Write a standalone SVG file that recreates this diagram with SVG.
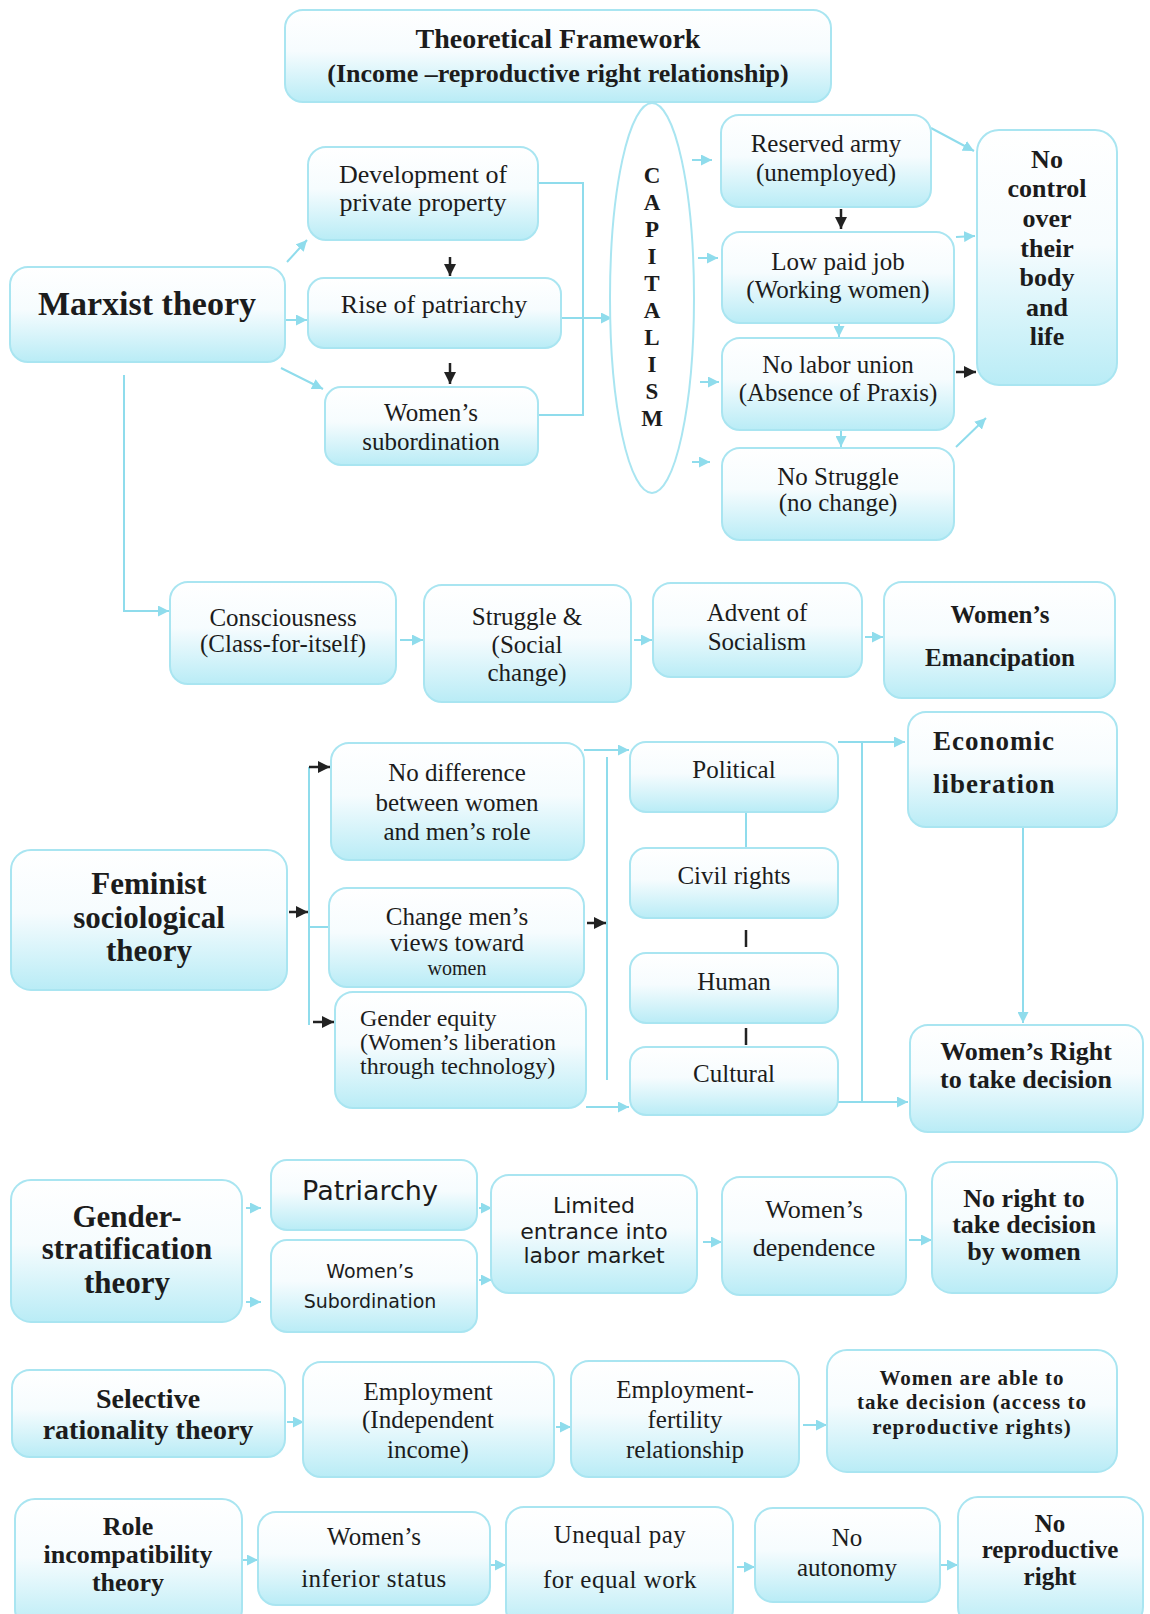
<svg xmlns="http://www.w3.org/2000/svg" width="1150" height="1614" viewBox="0 0 1150 1614" font-size="25">
<defs>
<linearGradient id="g" x1="0" y1="0" x2="0" y2="1">
<stop offset="0" stop-color="#ffffff"/>
<stop offset="0.45" stop-color="#f6fcfe"/>
<stop offset="1" stop-color="#b9ecf6"/>
</linearGradient>
<marker id="ac" viewBox="0 0 10 10" refX="10" refY="5" markerWidth="11" markerHeight="11" markerUnits="userSpaceOnUse" orient="auto"><path d="M0,0 L10,5 L0,10 z" fill="#8fdcec"/></marker>
<marker id="ab" viewBox="0 0 10 10" refX="10" refY="5" markerWidth="12" markerHeight="12" markerUnits="userSpaceOnUse" orient="auto"><path d="M0,0 L10,5 L0,10 z" fill="#222"/></marker>
<style>
.n rect, .n ellipse { fill: url(#g); stroke: #a9e5f1; stroke-width: 2; }
.n ellipse { fill: #ffffff; }
text { font-family: "Liberation Serif", "Times New Roman", serif; fill: #1c1c1c; text-anchor: middle; }
.b { font-weight: bold; }
.s { font-family: "DejaVu Sans", "Liberation Sans", sans-serif; }
.l { text-anchor: start; }
.c line, .c path { stroke: #8fdcec; stroke-width: 2; fill: none; }
.c .k { stroke: #222; stroke-width: 2.5; }
.c .ca { marker-end: url(#ac); }
.c .ka { marker-end: url(#ab); }
</style>
</defs>
<rect width="1150" height="1614" fill="#ffffff"/>

<g class="c" id="connectors">
<!-- Marxist -->
<line class="ca" x1="287" y1="262" x2="307" y2="240"/>
<line class="ca" x1="285" y1="320" x2="307" y2="320"/>
<line class="ca" x1="281" y1="368" x2="323" y2="389"/>
<line class="k ka" x1="450" y1="257" x2="450" y2="276"/>
<line class="k ka" x1="450" y1="363" x2="450" y2="384"/>
<path d="M538,183 H583 V415 H538"/>
<path class="ca" d="M561,318 H612"/>
<line class="ca" x1="692" y1="160" x2="712" y2="160"/>
<line class="ca" x1="698" y1="258" x2="718" y2="258"/>
<line class="ca" x1="700" y1="382" x2="719" y2="382"/>
<line class="ca" x1="692" y1="462" x2="710" y2="462"/>
<line class="k ka" x1="841" y1="209" x2="841" y2="229"/>
<line class="ca" x1="839" y1="323" x2="839" y2="337"/>
<line class="ca" x1="841" y1="431" x2="841" y2="447"/>
<line class="k ka" x1="956" y1="372" x2="976" y2="372"/>
<line class="ca" x1="931" y1="128" x2="974" y2="151"/>
<line class="ca" x1="956" y1="237" x2="975" y2="236"/>
<line class="ca" x1="956" y1="447" x2="986" y2="418"/>
<path class="ca" d="M124,375 V611 H169"/>
<line class="ca" x1="400" y1="640" x2="423" y2="640"/>
<line class="ca" x1="634" y1="640" x2="652" y2="640"/>
<line class="ca" x1="865" y1="637" x2="883" y2="637"/>
<!-- Feminist -->
<line class="k ka" x1="289" y1="912" x2="308" y2="912"/>
<line x1="309" y1="767" x2="309" y2="1025"/>
<line class="k ka" x1="309" y1="767" x2="330" y2="767"/>
<line x1="309" y1="927" x2="329" y2="927"/>
<line class="k ka" x1="313" y1="1022" x2="334" y2="1022"/>
<path class="ca" d="M584,750 H629"/>
<line class="k ka" x1="587" y1="923" x2="606" y2="923"/>
<line x1="607" y1="757" x2="607" y2="1080"/>
<path class="ca" d="M586,1107 H629"/>
<line x1="746" y1="812" x2="746" y2="848"/>
<line class="k" x1="746" y1="930" x2="746" y2="947"/>
<line class="k" x1="746" y1="1028" x2="746" y2="1045"/>
<line x1="862" y1="742" x2="862" y2="1102"/>
<path class="ca" d="M838,742 H905"/>
<path class="ca" d="M838,1102 H908"/>
<path class="ca" d="M1023,827 V1023"/>
<!-- Gender stratification -->
<line class="ca" x1="246" y1="1208" x2="261" y2="1208"/>
<line class="ca" x1="246" y1="1302" x2="261" y2="1302"/>
<line class="ca" x1="479" y1="1208" x2="492" y2="1208"/>
<line class="ca" x1="479" y1="1280" x2="492" y2="1280"/>
<line class="ca" x1="703" y1="1242" x2="722" y2="1242"/>
<line class="ca" x1="909" y1="1240" x2="932" y2="1240"/>
<!-- Selective -->
<line class="ca" x1="287" y1="1422" x2="304" y2="1422"/>
<line class="ca" x1="556" y1="1427" x2="571" y2="1427"/>
<line class="ca" x1="803" y1="1425" x2="827" y2="1425"/>
<!-- Role -->
<line class="ca" x1="243" y1="1560" x2="258" y2="1560"/>
<line class="ca" x1="491" y1="1565" x2="506" y2="1565"/>
<line class="ca" x1="737" y1="1567" x2="755" y2="1567"/>
<line class="ca" x1="941" y1="1565" x2="958" y2="1565"/>
</g>

<g class="n" id="title"><rect x="285" y="10" width="546" height="92" rx="18"/>
<text class="b" x="558" y="48" font-size="28">Theoretical Framework</text>
<text class="b" x="558" y="82" font-size="26">(Income –reproductive right relationship)</text></g>

<g class="n" id="marxist"><rect x="10" y="267" width="275" height="95" rx="18"/>
<text class="b" x="147" y="315" font-size="34">Marxist theory</text></g>

<g class="n" id="dev"><rect x="308" y="147" width="230" height="93" rx="18"/>
<text x="423" y="183" font-size="26">Development of</text>
<text x="423" y="211" font-size="26">private property</text></g>

<g class="n" id="rise"><rect x="308" y="278" width="253" height="70" rx="16"/>
<text x="434" y="313" font-size="26">Rise of patriarchy</text></g>

<g class="n" id="wsub"><rect x="325" y="387" width="213" height="78" rx="16"/>
<text x="431" y="421">Women’s</text>
<text x="431" y="450">subordination</text></g>

<g class="n" id="capitalism"><ellipse cx="652" cy="298" rx="42" ry="195"/>
<text class="b" font-size="23" x="652" y="183">C</text>
<text class="b" font-size="23" x="652" y="210">A</text>
<text class="b" font-size="23" x="652" y="237">P</text>
<text class="b" font-size="23" x="652" y="264">I</text>
<text class="b" font-size="23" x="652" y="291">T</text>
<text class="b" font-size="23" x="652" y="318">A</text>
<text class="b" font-size="23" x="652" y="345">L</text>
<text class="b" font-size="23" x="652" y="372">I</text>
<text class="b" font-size="23" x="652" y="399">S</text>
<text class="b" font-size="23" x="652" y="426">M</text></g>

<g class="n" id="reserved"><rect x="721" y="115" width="210" height="92" rx="18"/>
<text x="826" y="152">Reserved army</text>
<text x="826" y="181">(unemployed)</text></g>

<g class="n" id="lowpaid"><rect x="722" y="232" width="232" height="91" rx="18"/>
<text x="838" y="270">Low paid job</text>
<text x="838" y="298">(Working women)</text></g>

<g class="n" id="nolabor"><rect x="722" y="338" width="232" height="92" rx="18"/>
<text x="838" y="373">No labor union</text>
<text x="838" y="401">(Absence of Praxis)</text></g>

<g class="n" id="nostruggle"><rect x="722" y="448" width="232" height="92" rx="18"/>
<text x="838" y="485">No Struggle</text>
<text x="838" y="511">(no change)</text></g>

<g class="n" id="nocontrol"><rect x="977" y="130" width="140" height="255" rx="22"/>
<text class="b" font-size="26" x="1047" y="168">No</text>
<text class="b" font-size="26" x="1047" y="197">control</text>
<text class="b" font-size="26" x="1047" y="227">over</text>
<text class="b" font-size="26" x="1047" y="257">their</text>
<text class="b" font-size="26" x="1047" y="286">body</text>
<text class="b" font-size="26" x="1047" y="316">and</text>
<text class="b" font-size="26" x="1047" y="345">life</text></g>

<g class="n" id="consciousness"><rect x="170" y="582" width="226" height="102" rx="18"/>
<text x="283" y="626">Consciousness</text>
<text x="283" y="652">(Class-for-itself)</text></g>

<g class="n" id="struggle"><rect x="424" y="585" width="207" height="117" rx="18"/>
<text x="527" y="625">Struggle &amp;</text>
<text x="527" y="653">(Social</text>
<text x="527" y="681">change)</text></g>

<g class="n" id="advent"><rect x="653" y="583" width="209" height="94" rx="18"/>
<text x="757" y="621">Advent of</text>
<text x="757" y="650">Socialism</text></g>

<g class="n" id="emancipation"><rect x="884" y="582" width="231" height="116" rx="18"/>
<text class="b" x="1000" y="623">Women’s</text>
<text class="b" x="1000" y="666">Emancipation</text></g>

<g class="n" id="nodiff"><rect x="331" y="743" width="253" height="117" rx="18"/>
<text x="457" y="781">No difference</text>
<text x="457" y="811">between women</text>
<text x="457" y="840">and men’s role</text></g>

<g class="n" id="feminist"><rect x="11" y="850" width="276" height="140" rx="20"/>
<text class="b" font-size="31" x="149" y="894">Feminist</text>
<text class="b" font-size="31" x="149" y="928">sociological</text>
<text class="b" font-size="31" x="149" y="961">theory</text></g>

<g class="n" id="change"><rect x="329" y="888" width="255" height="99" rx="18"/>
<text x="457" y="925">Change men’s</text>
<text x="457" y="951">views toward</text>
<text x="457" y="975" font-size="20">women</text></g>

<g class="n" id="genderequity"><rect x="335" y="992" width="251" height="116" rx="18"/>
<text class="l" x="360" y="1026" font-size="24">Gender equity</text>
<text class="l" x="360" y="1050" font-size="24">(Women’s liberation</text>
<text class="l" x="360" y="1074" font-size="24">through technology)</text></g>

<g class="n" id="political"><rect x="630" y="742" width="208" height="70" rx="16"/>
<text x="734" y="778">Political</text></g>

<g class="n" id="civil"><rect x="630" y="848" width="208" height="70" rx="16"/>
<text x="734" y="884">Civil rights</text></g>

<g class="n" id="human"><rect x="630" y="953" width="208" height="70" rx="16"/>
<text x="734" y="990">Human</text></g>

<g class="n" id="cultural"><rect x="630" y="1047" width="208" height="68" rx="16"/>
<text x="734" y="1082">Cultural</text></g>

<g class="n" id="economic"><rect x="908" y="712" width="209" height="115" rx="18"/>
<text class="b l" font-size="27" letter-spacing="1" x="933" y="750">Economic</text>
<text class="b l" font-size="27" letter-spacing="1" x="933" y="793">liberation</text></g>

<g class="n" id="womensright"><rect x="910" y="1025" width="233" height="107" rx="18"/>
<text class="b" font-size="26" x="1026" y="1060">Women’s Right</text>
<text class="b" font-size="26" x="1026" y="1088">to take decision</text></g>

<g class="n" id="genderstrat"><rect x="11" y="1180" width="231" height="142" rx="20"/>
<text class="b" font-size="31" x="127" y="1227">Gender-</text>
<text class="b" font-size="31" x="127" y="1259">stratification</text>
<text class="b" font-size="31" x="127" y="1293">theory</text></g>

<g class="n" id="patriarchy"><rect x="271" y="1160" width="206" height="70" rx="16"/>
<text class="s" font-size="27" x="370" y="1200">Patriarchy</text></g>

<g class="n" id="wsub2"><rect x="271" y="1240" width="206" height="92" rx="16"/>
<text class="s" font-size="19" x="370" y="1278">Women’s</text>
<text class="s" font-size="19" x="370" y="1308">Subordination</text></g>

<g class="n" id="limited"><rect x="491" y="1175" width="206" height="118" rx="18"/>
<text class="s" font-size="22" x="594" y="1213">Limited</text>
<text class="s" font-size="22" x="594" y="1239">entrance into</text>
<text class="s" font-size="22" x="594" y="1263">labor market</text></g>

<g class="n" id="dependence"><rect x="722" y="1177" width="184" height="118" rx="18"/>
<text font-size="26" x="814" y="1218">Women’s</text>
<text font-size="26" x="814" y="1256">dependence</text></g>

<g class="n" id="noright"><rect x="932" y="1162" width="185" height="131" rx="20"/>
<text class="b" font-size="26" x="1024" y="1207">No right to</text>
<text class="b" font-size="26" x="1024" y="1233">take decision</text>
<text class="b" font-size="26" x="1024" y="1260">by women</text></g>

<g class="n" id="selective"><rect x="12" y="1370" width="273" height="87" rx="18"/>
<text class="b" font-size="28" x="148" y="1408">Selective</text>
<text class="b" font-size="28" x="148" y="1439">rationality theory</text></g>

<g class="n" id="employment"><rect x="303" y="1362" width="251" height="115" rx="18"/>
<text x="428" y="1400">Employment</text>
<text x="428" y="1428">(Independent</text>
<text x="428" y="1458">income)</text></g>

<g class="n" id="empfert"><rect x="571" y="1361" width="228" height="116" rx="18"/>
<text x="685" y="1398">Employment-</text>
<text x="685" y="1428">fertility</text>
<text x="685" y="1458">relationship</text></g>

<g class="n" id="womenable"><rect x="827" y="1350" width="290" height="122" rx="20"/>
<text class="b" font-size="21" letter-spacing="1" x="972" y="1385">Women are able to</text>
<text class="b" font-size="21" letter-spacing="1" x="972" y="1409">take decision (access to</text>
<text class="b" font-size="21" letter-spacing="1" x="972" y="1434">reproductive rights)</text></g>

<g class="n" id="role"><rect x="15" y="1499" width="227" height="130" rx="20"/>
<text class="b" font-size="26" x="128" y="1535">Role</text>
<text class="b" font-size="26" x="128" y="1563">incompatibility</text>
<text class="b" font-size="26" x="128" y="1591">theory</text></g>

<g class="n" id="inferior"><rect x="258" y="1512" width="232" height="93" rx="18"/>
<text x="374" y="1545">Women’s</text>
<text x="374" y="1587" letter-spacing="0.5">inferior status</text></g>

<g class="n" id="unequal"><rect x="506" y="1507" width="227" height="120" rx="18"/>
<text x="620" y="1543" letter-spacing="0.5">Unequal pay</text>
<text x="620" y="1588" letter-spacing="0.5">for equal work</text></g>

<g class="n" id="noautonomy"><rect x="755" y="1508" width="185" height="94" rx="18"/>
<text x="847" y="1546">No</text>
<text x="847" y="1576">autonomy</text></g>

<g class="n" id="noreproductive"><rect x="958" y="1497" width="185" height="130" rx="20"/>
<text class="b" font-size="25" x="1050" y="1532">No</text>
<text class="b" font-size="25" x="1050" y="1558">reproductive</text>
<text class="b" font-size="25" x="1050" y="1585">right</text></g>
</svg>
